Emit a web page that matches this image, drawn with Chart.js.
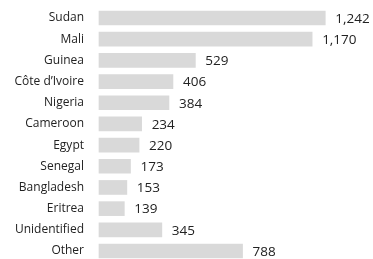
<!DOCTYPE html>
<html><head><meta charset="utf-8">
<script src="https://cdn.jsdelivr.net/npm/chart.js@4/dist/chart.umd.min.js"></script>
<style>html,body{margin:0;padding:0;background:#fff;}#wrap{width:373px;height:259px;position:relative;}</style>
</head><body><div id="wrap"><canvas id="c"></canvas></div>
<script>
const categories = ["Sudan","Mali","Guinea","Côte d’Ivoire","Nigeria","Cameroon","Egypt","Senegal","Bangladesh","Eritrea","Unidentified","Other"];
const values = [1242,1170,529,406,384,234,220,173,153,139,345,788];
const valueLabels = ["1,242","1,170","529","406","384","234","220","173","153","139","345","788"];

const FONT = "'Open Sans', 'Noto Sans', sans-serif";
const valuePlugin = {
  id: 'valueLabels',
  afterDatasetsDraw(chart) {
    const ctx = chart.ctx;
    const meta = chart.getDatasetMeta(0);
    ctx.save();
    ctx.font = "13.5px " + FONT;
    ctx.fillStyle = "#222";
    ctx.textBaseline = "middle";
    ctx.textAlign = "left";
    meta.data.forEach((bar, i) => {
      ctx.fillText(valueLabels[i], bar.x + 10, bar.y + 1);
    });
    ctx.restore();
  }
};

new Chart(document.getElementById('c'), {
  type: 'bar',
  data: { labels: categories, datasets: [{ data: values, backgroundColor: '#d9d9d9', borderWidth: 0, barThickness: 14, clip: false }] },
  options: {
    indexAxis: 'y',
    responsive: true, maintainAspectRatio: false, animation: false,
    layout: { padding: { top: 18, bottom: 8, left: 0, right: 0 } },
    plugins: { legend: { display: false }, tooltip: { enabled: false } },
    scales: {
      x: { display: false, min: 0, max: 1504 },
      y: {
        offset: false,
        grid: { display: false, drawTicks: false },
        border: { display: false },
        ticks: { padding: 15, color: '#222', font: { family: FONT, size: 12 } },
        afterFit(s) { s.width = 99; s.paddingTop = 0; s.paddingBottom = 0; }
      }
    }
  },
  plugins: [valuePlugin]
});
</script></body></html>
